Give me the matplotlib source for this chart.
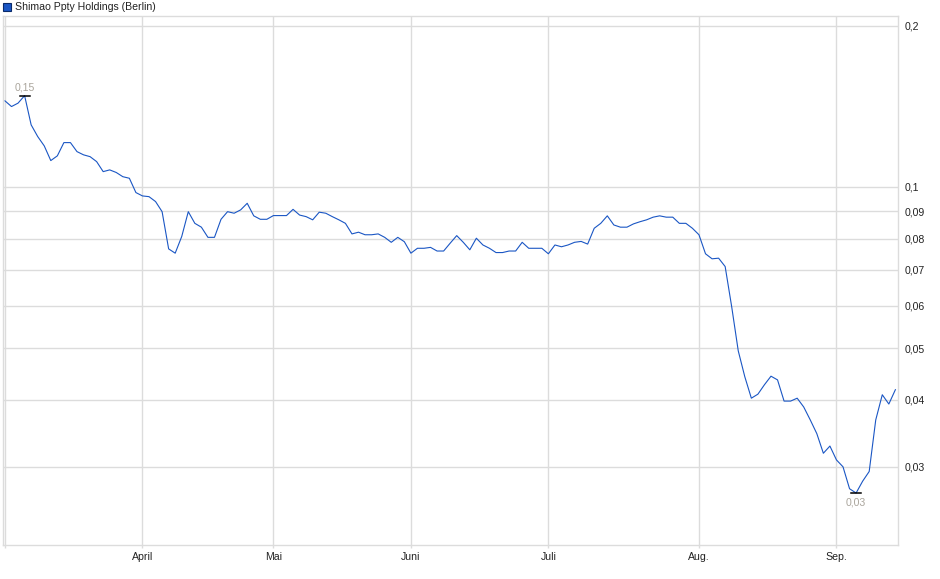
import numpy as np
import matplotlib
matplotlib.use("Agg")
import matplotlib.pyplot as plt

plt.rcParams['font.family'] = ['Liberation Sans', 'DejaVu Sans']

# Schlusskurse (EUR), ein Wert pro Handelstag
kurse = [
    0.1448, 0.1413, 0.1434, 0.1481, 0.1306, 0.1242, 0.1193, 0.1120, 0.1143, 0.1210,
    0.1210, 0.1164, 0.1148, 0.1139, 0.1115, 0.1068, 0.1076, 0.1064, 0.1045, 0.1038,
    0.0976, 0.0962, 0.0959, 0.0939, 0.0899, 0.0766, 0.0752, 0.0808, 0.0899, 0.0855,
    0.0841, 0.0805, 0.0805, 0.0870, 0.0899, 0.0893, 0.0906, 0.0932, 0.0883, 0.0870,
    0.0870, 0.0884, 0.0884, 0.0884, 0.0908, 0.0886, 0.0880, 0.0868, 0.0897, 0.0893,
    0.0880, 0.0868, 0.0855, 0.0817, 0.0823, 0.0814, 0.0814, 0.0817, 0.0805, 0.0788,
    0.0805, 0.0790, 0.0752, 0.0768, 0.0768, 0.0771, 0.0759, 0.0759, 0.0785, 0.0811,
    0.0788, 0.0763, 0.0802, 0.0779, 0.0768, 0.0754, 0.0754, 0.0759, 0.0759, 0.0788,
    0.0768, 0.0768, 0.0768, 0.0750, 0.0779, 0.0773, 0.0779, 0.0788, 0.0791, 0.0782,
    0.0837, 0.0855, 0.0883, 0.0849, 0.0841, 0.0841, 0.0853, 0.0861, 0.0868, 0.0878,
    0.0883, 0.0878, 0.0878, 0.0855, 0.0855, 0.0837, 0.0814, 0.0750, 0.0734, 0.0736,
    0.0710, 0.0597, 0.0494, 0.0442, 0.0403, 0.0410, 0.0427, 0.0443, 0.0436, 0.0398,
    0.0398, 0.0403, 0.0388, 0.0367, 0.0346, 0.0318, 0.0328, 0.0309, 0.0300, 0.0273,
    0.0268, 0.0282, 0.0294, 0.0367, 0.0409, 0.0393, 0.0418,
]

monate = ['April', 'Mai', 'Juni', 'Juli', 'Aug.', 'Sep.']
monat_idx = [21, 41, 62, 83, 106, 127]   # erster Handelstag des Monats

y_ticks = [0.03, 0.04, 0.05, 0.06, 0.07, 0.08, 0.09, 0.1, 0.2]
y_labels = ['0,03', '0,04', '0,05', '0,06', '0,07', '0,08', '0,09', '0,1', '0,2']

titel = 'Shimao Ppty Holdings (Berlin)'

blau = '#1a56c4'
gitter = '#dcdcdc'
fs = 7.6

x = np.arange(len(kurse))
kurse = np.array(kurse)

fig = plt.figure(figsize=(9.4, 5.79), dpi=100)
ax = fig.add_axes([3 / 940, 34 / 579, 895 / 940, 529 / 579])

ax.plot(x, kurse, color=blau, lw=0.8)

ax.set_yscale('log')
ax.set_ylim(0.02143, 0.2086)
ax.set_xlim(-0.3, len(kurse) - 1 + 0.4)

ax.set_yticks(y_ticks)
ax.set_yticklabels(y_labels)
ax.yaxis.set_minor_locator(matplotlib.ticker.NullLocator())
ax.yaxis.tick_right()
ax.tick_params(axis='y', length=0, pad=5, labelsize=fs, colors='#222222')

ax.set_xticks([0] + monat_idx)
ax.set_xticklabels([''] + monate)
ax.tick_params(axis='x', length=2, width=1, color=gitter, pad=3, labelsize=fs,
               labelcolor='#222222')

ax.grid(True, color=gitter, lw=1)
for s in ax.spines.values():
    s.set_color(gitter)
    s.set_linewidth(1)

# Hoch und Tief markieren
i_max = int(np.argmax(kurse))
i_min = int(np.argmin(kurse))
ax.plot([i_max - 0.75, i_max + 0.75], [kurse[i_max]] * 2, color='black', lw=1.1)
ax.plot([i_min - 0.75, i_min + 0.75], [kurse[i_min]] * 2, color='black', lw=1.1)
ax.annotate('0,15', (i_max, kurse[i_max]), xytext=(0, 2), textcoords='offset points',
            ha='center', va='bottom', fontsize=fs, color='#aaa59c')
ax.annotate('0,03', (i_min, kurse[i_min]), xytext=(0, -3), textcoords='offset points',
            ha='center', va='top', fontsize=fs, color='#aaa59c')

# Legende oben links
fig.patches.append(matplotlib.patches.Rectangle((3 / 940, 1 - 11 / 579), 8 / 940, 8 / 579,
                                                 transform=fig.transFigure,
                                                 facecolor=blau, edgecolor='#0a2a6a', lw=0.8))
fig.text(15 / 940, 1 - 7 / 579, titel, fontsize=fs, va='center', ha='left', color='#222222')

fig.savefig('out.png', dpi=100)
